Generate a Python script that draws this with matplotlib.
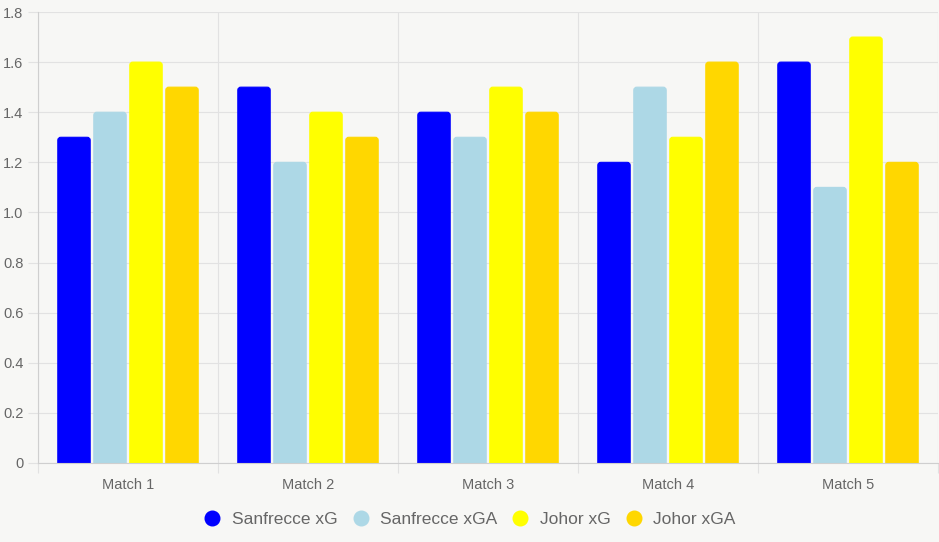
import matplotlib.pyplot as plt
import numpy as np
from matplotlib.path import Path
from matplotlib.patches import PathPatch
from matplotlib.lines import Line2D

# data
matches = ["Match 1", "Match 2", "Match 3", "Match 4", "Match 5"]
series_names = ["Sanfrecce xG", "Sanfrecce xGA", "Johor xG", "Johor xGA"]
sanfrecce_xg = [1.3, 1.5, 1.4, 1.2, 1.6]
sanfrecce_xga = [1.4, 1.2, 1.3, 1.5, 1.1]
johor_xg = [1.6, 1.4, 1.5, 1.3, 1.7]
johor_xga = [1.5, 1.3, 1.4, 1.6, 1.2]
y_ticks = [0, 0.2, 0.4, 0.6, 0.8, 1.0, 1.2, 1.4, 1.6, 1.8]
y_tick_labels = ["0", "0.2", "0.4", "0.6", "0.8", "1.0", "1.2", "1.4", "1.6", "1.8"]

colors = ["#0000ff", "#add8e6", "#ffff00", "#ffd700"]
bg = "#f7f7f5"
grid_c = "#e2e2e2"
axis_c = "#cfcfcf"
text_c = "#666666"

plt.rcParams['font.family'] = ['Liberation Sans', 'DejaVu Sans']

fig = plt.figure(figsize=(9.39, 5.42), dpi=100, facecolor=bg)
ax = fig.add_axes([38 / 939, 79 / 542, 900 / 939, 451 / 542])
ax.set_facecolor(bg)
ax.set_xlim(-0.5, len(matches) - 0.5)
ax.set_ylim(0, 1.8)

x = np.arange(len(matches))
slot = 0.8 / len(series_names)
width = slot * 0.9
all_series = [sanfrecce_xg, sanfrecce_xga, johor_xg, johor_xga]


def rounded_top(rect, rx, ry):
    x0, y0 = rect.get_x(), rect.get_y()
    x1, y1 = x0 + rect.get_width(), y0 + rect.get_height()
    verts = [(x0, y0), (x0, y1 - ry), (x0, y1), (x0 + rx, y1),
             (x1 - rx, y1), (x1, y1), (x1, y1 - ry), (x1, y0), (x0, y0)]
    codes = [Path.MOVETO, Path.LINETO, Path.CURVE3, Path.CURVE3,
             Path.LINETO, Path.CURVE3, Path.CURVE3, Path.LINETO, Path.CLOSEPOLY]
    return Path(verts, codes)


# data units per pixel, for a 3px corner radius
inv = ax.transData.inverted()
(dx0, dy0), (dx1, dy1) = inv.transform([(0, 0), (3, 3)])
rx, ry = dx1 - dx0, dy1 - dy0

for i, (vals, c) in enumerate(zip(all_series, colors)):
    bars = ax.bar(x + (i - 1.5) * slot, vals, width=width, color=c)
    for b in bars:
        ax.add_patch(PathPatch(rounded_top(b, rx, ry), facecolor=c,
                               edgecolor=c, lw=0.8, zorder=2))
        b.remove()

# axes styling
ax.set_yticks(y_ticks)
ax.set_yticklabels(y_tick_labels)
ax.set_xticks(x)
ax.set_xticklabels(matches)
ax.set_xticks(np.arange(-0.5, len(matches)), minor=True)
ax.tick_params(axis='y', length=7.5, width=0.8, color=grid_c, pad=3,
               labelsize=10.5, labelcolor=text_c)
ax.tick_params(axis='x', which='major', length=0, pad=11,
               labelsize=10.5, labelcolor=text_c)
ax.tick_params(axis='x', which='minor', length=7, width=0.8, color=grid_c)
ax.grid(axis='y', color=grid_c, lw=0.8, zorder=0)
ax.grid(axis='x', which='minor', color=grid_c, lw=0.8, zorder=0)
ax.set_axisbelow(True)
for s in ['top', 'right']:
    ax.spines[s].set_visible(False)
for s in ['left', 'bottom']:
    ax.spines[s].set_color(axis_c)
    ax.spines[s].set_linewidth(0.8)

handles = [Line2D([], [], marker='o', linestyle='', markersize=10.5,
                  markerfacecolor=c, markeredgecolor=c) for c in colors]
leg = fig.legend(handles, series_names, loc='center', bbox_to_anchor=(0.5, 0.041),
                 ncol=4, frameon=False, fontsize=12.5, handlelength=1.0,
                 handletextpad=0.6, columnspacing=0.85)
for t in leg.get_texts():
    t.set_color(text_c)

fig.savefig("out.png", dpi=100, facecolor=bg)
